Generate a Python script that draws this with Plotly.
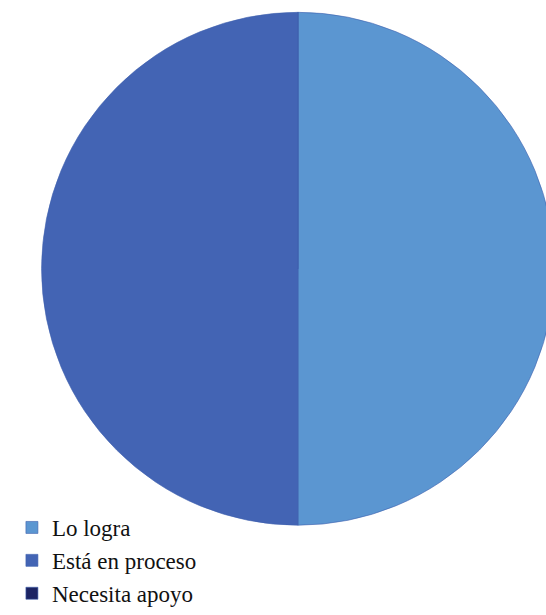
import plotly.graph_objects as go

labels = ["Lo logra", "Está en proceso", "Necesita apoyo"]
values = [50, 50, 0]
colors = ["#5B96D1", "#4364B4", "#1C2463"]

fig = go.Figure(go.Pie(
    labels=labels, values=values, sort=False, direction="clockwise", rotation=0,
    marker=dict(colors=colors, line=dict(color="#3F62AE", width=0.6)),
    textinfo="none", hoverinfo="label+percent",
    domain=dict(x=[0, 1], y=[0.146, 0.98]),
))
fig.update_layout(
    width=596, height=615,
    margin=dict(l=0, r=0, t=0, b=0, autoexpand=False),
    paper_bgcolor="white", plot_bgcolor="white",
    legend=dict(x=0.02, y=0.0, xanchor="left", yanchor="bottom",
                font=dict(family="'Liberation Serif', 'DejaVu Serif', serif", size=23, color="#111"),
                bgcolor="rgba(0,0,0,0)", itemwidth=30, tracegroupgap=0),
)
fig.write_html("out.html", config={"displayModeBar": False},
               post_script="document.body.style.margin='0';document.body.style.overflow='hidden';")
